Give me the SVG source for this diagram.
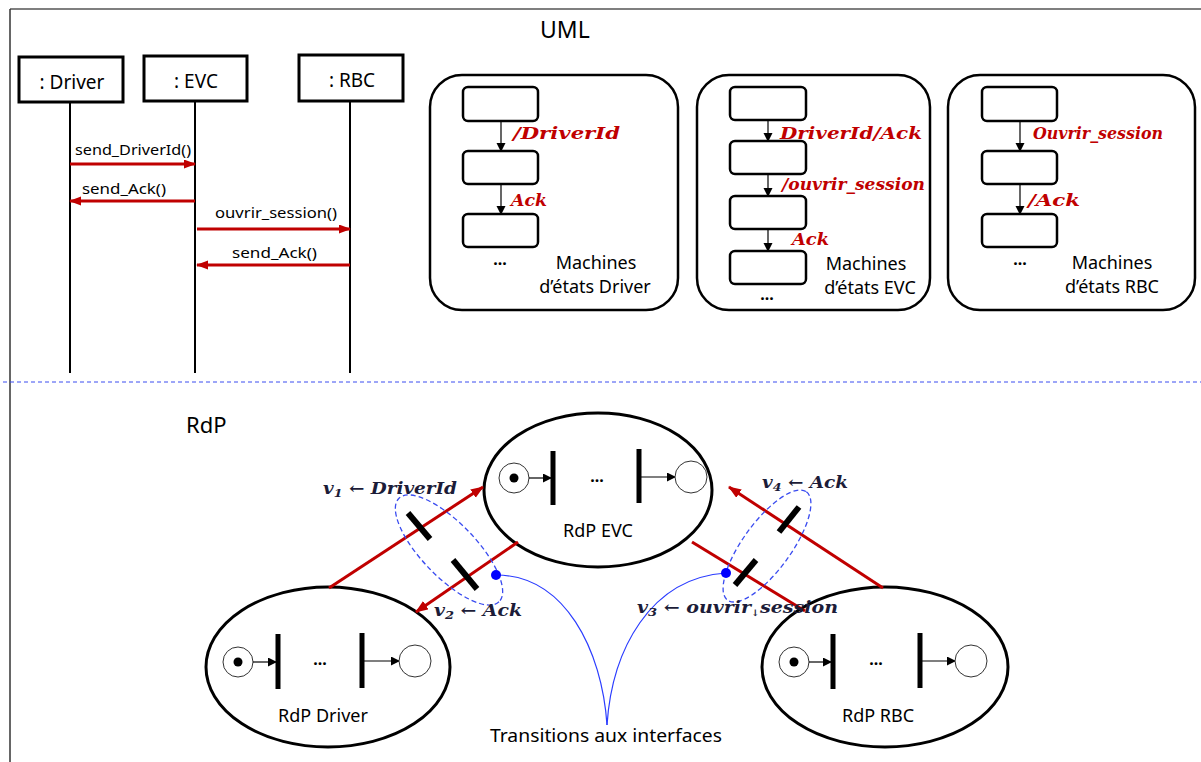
<svg xmlns="http://www.w3.org/2000/svg" width="1201" height="762" viewBox="0 0 1201 762">
<style>
.sans{font-family:"Noto Sans","DejaVu Sans",sans-serif;fill:#000}
.math{font-family:"DejaVu Serif","Liberation Serif",serif;font-weight:bold;font-style:italic}
.red{fill:#c00000}
.navy{fill:#1c1c38}
.box{fill:#fff;stroke:#000;stroke-width:3}
.rbox{fill:#fff;stroke:#000;stroke-width:2.5}
.st{fill:#fff;stroke:#000;stroke-width:2.5}
.life{stroke:#000;stroke-width:2}
.msg{stroke:#c00000;stroke-width:3;fill:none}
.sarr{stroke:#000;stroke-width:1.2;fill:none}
.net{fill:#fff;stroke:#000;stroke-width:3}
.place{fill:#fff;stroke:#333;stroke-width:1}
.bar{stroke:#000;stroke-width:5}
.ibar{stroke:#000;stroke-width:6}
.ia{stroke:#c00000;stroke-width:3;fill:none}
.dash{fill:none;stroke:#3a4cf0;stroke-width:1.3;stroke-dasharray:5,3}
.blue{fill:none;stroke:#2a3cff;stroke-width:1.2}
</style>
<defs>
<marker id="ra" markerUnits="userSpaceOnUse" markerWidth="13" markerHeight="11" refX="12" refY="5" orient="auto"><path d="M0,0 L13,5 L0,10 z" fill="#c00000"/></marker>
<marker id="sa" markerUnits="userSpaceOnUse" markerWidth="12" markerHeight="10" refX="11" refY="4.5" orient="auto"><path d="M0,0 L12,4.5 L0,9 z" fill="#c00000"/></marker>
<marker id="ba" markerUnits="userSpaceOnUse" markerWidth="9" markerHeight="10" refX="8" refY="4.5" orient="auto"><path d="M0,0 L9,4.5 L0,9 z" fill="#000"/></marker>
</defs>

<g id="frame">
<line x1="10" y1="9" x2="1201" y2="9" stroke="#555" stroke-width="1.5"/>
<line x1="10" y1="9" x2="10" y2="762" stroke="#333" stroke-width="1.5"/>
<line x1="3" y1="382" x2="1201" y2="382" stroke="#3a4cf0" stroke-width="1" stroke-dasharray="4,3"/>
<text class="sans" x="540" y="38" font-size="23">UML</text>
<text class="sans" x="186" y="433" font-size="22">RdP</text>
</g>

<!-- Sequence diagram -->
<g id="seq-driver">
<rect class="box" x="19" y="57" width="104" height="45"/>
<text class="sans" x="72" y="89" font-size="19" text-anchor="middle">:  Driver</text>
<line class="life" x1="70" y1="102" x2="70" y2="373"/>
</g>
<g id="seq-evc">
<rect class="box" x="144" y="56" width="103" height="45"/>
<text class="sans" x="196" y="88" font-size="19" text-anchor="middle">:  EVC</text>
<line class="life" x1="195" y1="101" x2="195" y2="373"/>
</g>
<g id="seq-rbc">
<rect class="box" x="299" y="55" width="104" height="46"/>
<text class="sans" x="352" y="87" font-size="19" text-anchor="middle">:  RBC</text>
<line class="life" x1="350" y1="101" x2="350" y2="373"/>
</g>
<g id="seq-messages">
<line class="msg" x1="70" y1="164" x2="195" y2="164" marker-end="url(#sa)"/>
<text class="sans" x="75" y="155" font-size="15" textLength="116" lengthAdjust="spacingAndGlyphs">send_DriverId()</text>
<line class="msg" x1="195" y1="201" x2="70" y2="201" marker-end="url(#sa)"/>
<text class="sans" x="82" y="194" font-size="15" textLength="84" lengthAdjust="spacingAndGlyphs">send_Ack()</text>
<line class="msg" x1="197" y1="229" x2="350" y2="229" marker-end="url(#sa)"/>
<text class="sans" x="215" y="218" font-size="15" textLength="122" lengthAdjust="spacingAndGlyphs">ouvrir_session()</text>
<line class="msg" x1="350" y1="265" x2="197" y2="265" marker-end="url(#sa)"/>
<text class="sans" x="232" y="258" font-size="15" textLength="85" lengthAdjust="spacingAndGlyphs">send_Ack()</text>
</g>

<!-- State machines -->
<g id="sm-driver">
<rect class="rbox" x="430" y="75" width="248" height="235" rx="32"/>
<rect class="st" x="463" y="87" width="75" height="34" rx="5"/>
<rect class="st" x="463" y="151" width="75" height="33" rx="5"/>
<rect class="st" x="463" y="214" width="75" height="33" rx="5"/>
<line class="sarr" x1="501" y1="121" x2="501" y2="151" marker-end="url(#ba)"/>
<line class="sarr" x1="501" y1="184" x2="501" y2="214" marker-end="url(#ba)"/>
<text class="math red" x="513" y="139" font-size="16" textLength="107" lengthAdjust="spacingAndGlyphs">/DriverId</text>
<text class="math red" x="511" y="206" font-size="16" textLength="36" lengthAdjust="spacingAndGlyphs">Ack</text>
<text class="sans" x="500" y="265" font-size="16" font-weight="bold" text-anchor="middle">...</text>
<text class="sans" x="596" y="269" font-size="18" text-anchor="middle">Machines</text>
<text class="sans" x="595" y="293" font-size="18" text-anchor="middle">d’états Driver</text>
</g>
<g id="sm-evc">
<rect class="rbox" x="697" y="75" width="233" height="235" rx="32"/>
<rect class="st" x="730" y="87" width="76" height="33" rx="5"/>
<rect class="st" x="730" y="141" width="76" height="33" rx="5"/>
<rect class="st" x="730" y="196" width="76" height="33" rx="5"/>
<rect class="st" x="730" y="251" width="76" height="33" rx="5"/>
<line class="sarr" x1="768" y1="120" x2="768" y2="141" marker-end="url(#ba)"/>
<line class="sarr" x1="768" y1="174" x2="768" y2="196" marker-end="url(#ba)"/>
<line class="sarr" x1="768" y1="229" x2="768" y2="251" marker-end="url(#ba)"/>
<text class="math red" x="780" y="139" font-size="16" textLength="142" lengthAdjust="spacingAndGlyphs">DriverId/Ack</text>
<text class="math red" x="782" y="190" font-size="16" textLength="143" lengthAdjust="spacingAndGlyphs">/ouvrir_session</text>
<text class="math red" x="792" y="245" font-size="16" textLength="37" lengthAdjust="spacingAndGlyphs">Ack</text>
<text class="sans" x="767" y="300" font-size="16" font-weight="bold" text-anchor="middle">...</text>
<text class="sans" x="866" y="270" font-size="18" text-anchor="middle">Machines</text>
<text class="sans" x="870" y="294" font-size="18" text-anchor="middle">d’états EVC</text>
</g>
<g id="sm-rbc">
<rect class="rbox" x="948" y="75" width="247" height="235" rx="32"/>
<rect class="st" x="982" y="87" width="75" height="34" rx="5"/>
<rect class="st" x="982" y="151" width="75" height="33" rx="5"/>
<rect class="st" x="982" y="214" width="75" height="33" rx="5"/>
<line class="sarr" x1="1020" y1="121" x2="1020" y2="151" marker-end="url(#ba)"/>
<line class="sarr" x1="1020" y1="184" x2="1020" y2="214" marker-end="url(#ba)"/>
<text class="math red" x="1033" y="139" font-size="16" textLength="130" lengthAdjust="spacingAndGlyphs">Ouvrir_session</text>
<text class="math red" x="1028" y="206" font-size="16" textLength="52" lengthAdjust="spacingAndGlyphs">/Ack</text>
<text class="sans" x="1020" y="265" font-size="16" font-weight="bold" text-anchor="middle">...</text>
<text class="sans" x="1112" y="269" font-size="18" text-anchor="middle">Machines</text>
<text class="sans" x="1112" y="293" font-size="18" text-anchor="middle">d’états RBC</text>
</g>

<!-- Petri nets -->
<g id="rdp-evc">
<ellipse class="net" cx="598" cy="490" rx="114" ry="77"/>
<circle class="place" cx="514" cy="478" r="15"/>
<circle cx="514" cy="478" r="4.5" fill="#000"/>
<line class="sarr" x1="529" y1="478" x2="551" y2="478" marker-end="url(#ba)"/>
<line class="bar" x1="553" y1="451" x2="553" y2="505"/>
<text class="sans" x="597" y="482" font-size="16" font-weight="bold" text-anchor="middle">...</text>
<line class="bar" x1="639" y1="449" x2="639" y2="503"/>
<line class="sarr" x1="641" y1="477" x2="675" y2="477" marker-end="url(#ba)"/>
<circle class="place" cx="691" cy="477" r="16"/>
<text class="sans" x="598" y="537" font-size="18" text-anchor="middle">RdP EVC</text>
</g>
<g id="rdp-driver">
<ellipse class="net" cx="328" cy="667" rx="122" ry="80"/>
<circle class="place" cx="238" cy="662" r="15"/>
<circle cx="238" cy="662" r="4.5" fill="#000"/>
<line class="sarr" x1="253" y1="662" x2="276" y2="662" marker-end="url(#ba)"/>
<line class="bar" x1="278" y1="634" x2="278" y2="689"/>
<text class="sans" x="320" y="665" font-size="16" font-weight="bold" text-anchor="middle">...</text>
<line class="bar" x1="362" y1="633" x2="362" y2="688"/>
<line class="sarr" x1="364" y1="661" x2="399" y2="661" marker-end="url(#ba)"/>
<circle class="place" cx="415" cy="661" r="16"/>
<text class="sans" x="323" y="722" font-size="18" text-anchor="middle">RdP Driver</text>
</g>
<g id="rdp-rbc">
<ellipse class="net" cx="885" cy="667" rx="123" ry="80"/>
<circle class="place" cx="794" cy="662" r="15"/>
<circle cx="794" cy="662" r="4.5" fill="#000"/>
<line class="sarr" x1="809" y1="662" x2="831" y2="662" marker-end="url(#ba)"/>
<line class="bar" x1="833" y1="634" x2="833" y2="689"/>
<text class="sans" x="876" y="665" font-size="16" font-weight="bold" text-anchor="middle">...</text>
<line class="bar" x1="920" y1="633" x2="920" y2="688"/>
<line class="sarr" x1="922" y1="661" x2="955" y2="661" marker-end="url(#ba)"/>
<circle class="place" cx="971" cy="661" r="16"/>
<text class="sans" x="878" y="722" font-size="18" text-anchor="middle">RdP RBC</text>
</g>

<!-- Interface connectors -->
<g id="connectors">
<line class="ia" x1="329" y1="588" x2="483" y2="487" marker-end="url(#ra)"/>
<line class="ia" x1="518" y1="542" x2="416" y2="612" marker-end="url(#ra)"/>
<line class="ia" x1="692" y1="542" x2="805" y2="611"/>
<line class="ia" x1="883" y1="588" x2="729" y2="487" marker-end="url(#ra)"/>
<line class="ibar" x1="408" y1="513" x2="430" y2="539"/>
<line class="ibar" x1="453" y1="560" x2="477" y2="589"/>
<line class="ibar" x1="735" y1="585" x2="756" y2="560"/>
<line class="ibar" x1="779" y1="532" x2="799" y2="507"/>
<ellipse class="dash" cx="449" cy="550" rx="72" ry="27" transform="rotate(46 449 550)"/>
<ellipse class="dash" cx="767" cy="546" rx="67" ry="24" transform="rotate(-54 767 546)"/>
<path class="blue" d="M496,575 C565,575 602,650 607,725"/>
<path class="blue" d="M726,573 C650,578 612,650 607,725"/>
<circle cx="496" cy="575" r="5" fill="#0000ff"/>
<circle cx="726" cy="573" r="5" fill="#0000ff"/>
</g>

<g id="labels">
<text class="math navy" x="323" y="494" font-size="16" textLength="134" lengthAdjust="spacingAndGlyphs">v<tspan font-size="11" dy="3">1</tspan><tspan dy="-3"> ← DriverId</tspan></text>
<text class="math navy" x="434" y="616" font-size="16" textLength="88" lengthAdjust="spacingAndGlyphs">v<tspan font-size="11" dy="3">2</tspan><tspan dy="-3"> ← Ack</tspan></text>
<text class="math navy" x="637" y="613" font-size="16" textLength="201" lengthAdjust="spacingAndGlyphs">v<tspan font-size="11" dy="3">3</tspan><tspan dy="-3"> ← ouvrir</tspan><tspan font-size="9" dy="3">↓</tspan><tspan dy="-3">session</tspan></text>
<text class="math navy" x="762" y="488" font-size="16" textLength="86" lengthAdjust="spacingAndGlyphs">v<tspan font-size="11" dy="3">4</tspan><tspan dy="-3"> ← Ack</tspan></text>
<text class="sans" x="606" y="742" font-size="18" text-anchor="middle" textLength="232" lengthAdjust="spacingAndGlyphs">Transitions aux interfaces</text>
</g>
</svg>
